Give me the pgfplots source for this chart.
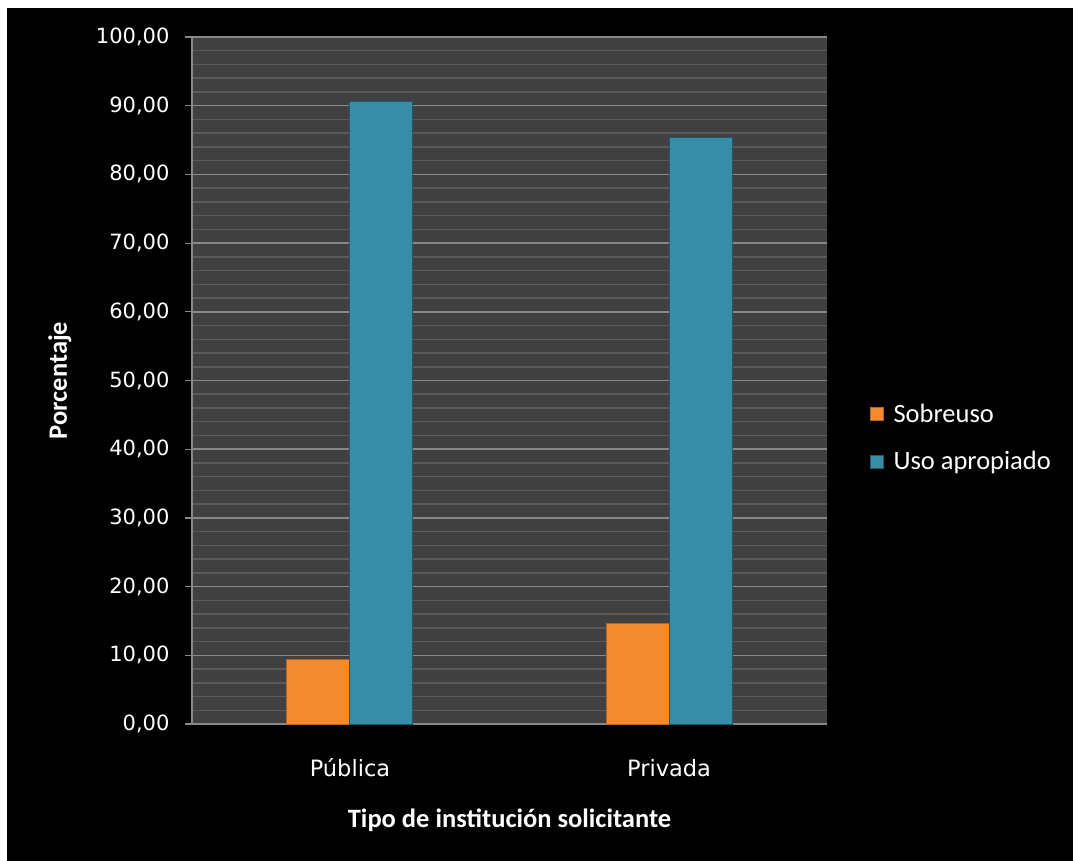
\documentclass[border=0pt]{standalone}
\usepackage{pgfplots}
\pgfplotsset{compat=1.18}
\usepackage{fontspec}
\setmainfont{Carlito}
\newfontfamily\dv{DejaVu Sans}
\definecolor{bg}{HTML}{404040}
\definecolor{gmaj}{HTML}{888888}
\definecolor{gmin}{HTML}{5A5A5A}
\definecolor{orgC}{HTML}{F28A2E}
\definecolor{orgD}{HTML}{B8621A}
\definecolor{tealC}{HTML}{388DA6}
\definecolor{tealD}{HTML}{1F5A6B}
\begin{document}
\begin{tikzpicture}
\path[use as bounding box] (0pt,0pt) rectangle (1073pt,-861pt);
\fill[white] (0pt,0pt) rectangle (1073pt,-861pt);
\fill[black] (7pt,-8pt) rectangle (1073pt,-861pt);
\begin{axis}[
  at={(192pt,-724pt)}, anchor=south west,
  width=635pt, height=687pt, scale only axis,
  xmin=-0.495, xmax=1.495, ymin=0, ymax=100,
  ybar=0pt, bar width=63pt,
  xtick={0,1}, xticklabels={Pública,Privada},
  x tick style={draw=none},
  ytick={0,10,...,100},
  yticklabels={{0,00},{10,00},{20,00},{30,00},{40,00},{50,00},{60,00},{70,00},{80,00},{90,00},{100,00}},
  minor y tick num=4,
  minor tick length=0pt,
  tick align=outside, major tick length=7pt,
  y tick style={color=gmaj, line width=1.2pt},
  ymajorgrids, yminorgrids,
  major grid style={color=gmaj, line width=1.5pt},
  minor grid style={color=gmin, line width=1.5pt},
  axis background/.style={fill=bg},
  axis x line*=bottom, axis y line*=left,
  axis line style={-, color=gmaj, line width=1.5pt},
  tick label style={text=white},
  yticklabel style={anchor=east, xshift=-12pt, font=\dv\fontsize{21}{25}\selectfont},
  xticklabel style={anchor=center, yshift=-37pt, font=\dv\fontsize{22.5}{27}\selectfont},
  xlabel={Tipo de institución solicitante},
  ylabel={Porcentaje},
  label style={text=white, font=\bfseries\fontsize{26.5}{31}\selectfont},
  xlabel style={at={(axis description cs:0.5,-0.14)}, anchor=center},
  ylabel style={at={(axis description cs:-0.208,0.5)}, anchor=center},
  legend style={at={(axis description cs:1.063,0.417)}, anchor=west,
    draw=none, fill=none, text=white,
    font=\fontsize{26.5}{31}\selectfont, row sep=24pt},
  legend cell align=left,
  legend image code/.code={\path[draw=none,fill=none] (0pt,0pt) -- (21pt,0pt);\draw[#1,line width=0.6pt] (0pt,-6.5pt) rectangle (13pt,6.5pt);},
]
\addplot[fill=orgC, draw=orgD, line width=1pt] coordinates {(0,9.4) (1,14.6)};
\addplot[fill=tealC, draw=tealD, line width=1pt] coordinates {(0,90.6) (1,85.4)};
\legend{Sobreuso, Uso apropiado}
\end{axis}
\end{tikzpicture}
\end{document}
